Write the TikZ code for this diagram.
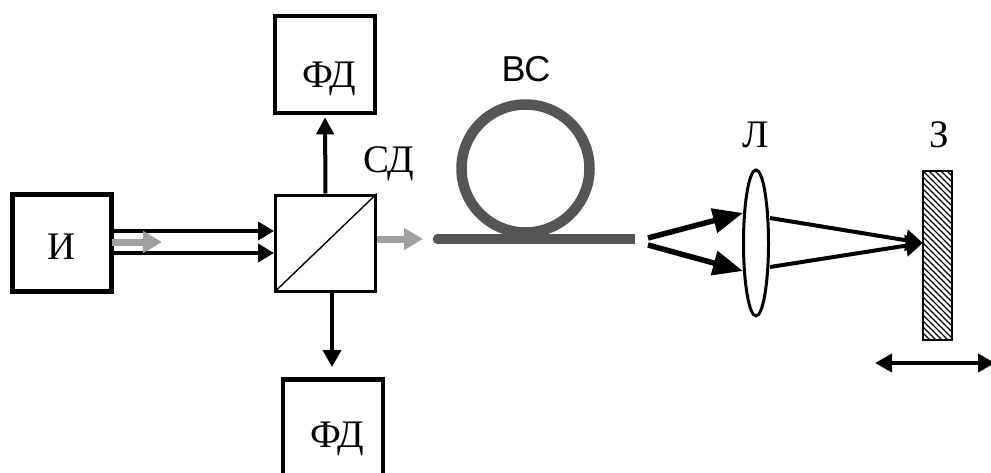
\documentclass[tikz,border=0pt]{standalone}
\usepackage{fontspec}
\setmainfont{Liberation Serif}
\newfontfamily\sansf{Liberation Sans}
\usetikzlibrary{arrows.meta,calc,shapes.geometric}
\definecolor{fibre}{HTML}{555555}
\definecolor{beam}{HTML}{A0A0A0}
\tikzset{
  x=1pt,y=-1pt,
  boxthick/.style={draw,line width=4.6pt,minimum width=99pt,minimum height=97pt,inner sep=0pt,rectangle},
  splitbox/.style={draw,line width=3pt,minimum width=100pt,minimum height=96pt,inner sep=0pt,rectangle},
  lbl/.style={font=\fontsize{39}{39}\selectfont,inner sep=0pt},
  ray/.style={line width=4pt,-{Triangle[length=16pt,width=18pt]}},
  grayray/.style={draw=beam,line width=7pt,-{Triangle[length=19pt,width=21pt]},beam},
  bigray/.style={line width=5.5pt,-{Triangle[length=30pt,width=24pt]}},
}
\begin{document}
\begin{tikzpicture}
\useasboundingbox (0,0) rectangle (991,472);
\begin{scope}
\clip (0,0) rectangle (991,472);
\node[boxthick] (src) at (62,243) {};
\node[splitbox] (split) at (325.5,243) {};
\node[boxthick,minimum width=100pt] (pdtop) at (325,64.5) {};
\node[boxthick,minimum width=100pt,minimum height=110pt,anchor=north] (pdbot) at (333,377) {};
\node[lbl,anchor=base] (tsrc) at (62,259) {И};
\node[lbl,anchor=base] (ttop) at (329,87) {ФД};
\node[lbl,anchor=base] (tbot) at (337,447) {ФД};
\node[lbl,anchor=base] (tsd) at (389,172) {СД};
\node[lbl,anchor=base] (tl) at (756,147) {Л};
\node[lbl,anchor=base] (tz) at (939,147) {З};
\node[font=\sansf\fontsize{36}{36}\selectfont,inner sep=0pt,anchor=base] (tvs) at (526,81) {ВС};
% splitter diagonal
\draw[line width=1.4pt] (split.south west) -- (split.north east);
% source beams
\draw[ray] ([yshift=12pt]src.east) -- ([yshift=12pt]split.west);
\draw[ray] ([yshift=-10pt]src.east) -- ([yshift=-10pt]split.west);
\coordinate (gs) at (162,242);
\draw[grayray] ([xshift=-2pt,yshift=1pt]src.east) -- (gs);
% detector arrows
\draw[ray,-{Triangle[length=17pt,width=17pt]}] (split.north) -- ([yshift=-2pt]pdtop.south);
\draw[ray,-{Triangle[length=17pt,width=18pt]}] ([xshift=6.5pt]split.south) -- ([xshift=-1pt,yshift=10pt]pdbot.north);
% fibre
\coordinate (fa) at (438,239);
\coordinate (fb) at (635,239);
\draw[grayray] ([yshift=4pt]split.east) -- (423,239);
\draw[fibre,line width=10.5pt] (525.5,168.5) circle[radius=64];
\draw[fibre,line width=10.5pt] (fa) -- (fb);
\fill[fibre] (fa) circle[radius=5.25];
% lens
\node[draw,ellipse,line width=3pt,minimum width=25pt,minimum height=146pt,inner sep=0pt] (lens) at (756,243) {};
% rays to the lens
\coordinate (o1) at (648,238);
\coordinate (o2) at (648,245);
\draw[bigray] (o1) -- (743,213);
\draw[bigray] (o2) -- (743,271);
% mirror
\node[draw,line width=1.5pt,minimum width=28pt,minimum height=168pt,inner sep=0pt,rectangle] (mir) at (937.5,255.5) {};
\begin{scope}
\clip (mir.south west) rectangle (mir.north east);
\foreach \k in {-30,-24,...,200} {
  \draw[line width=1.2pt] (923,171+\k*1) -- (953,201+\k*1);
}
\end{scope}
\draw[line width=1.5pt] (mir.south west) rectangle (mir.north east);
% focused rays
\coordinate (foc) at (mir.west |- 0,243);
\coordinate (r1) at (770,218);
\coordinate (r2) at (770,267);
\draw[ray,-{Triangle[length=17pt,width=21pt]}] (r2) -- (foc);
\draw[ray,-{Triangle[length=17pt,width=21pt]}] (r1) -- (foc);
% motion arrow
\coordinate (ml) at (875,363);
\coordinate (mr) at (995,363);
\draw[line width=4pt,{Triangle[length=17pt,width=18pt]}-{Triangle[length=17pt,width=18pt]}] (ml) -- (mr);
\end{scope}
\end{tikzpicture}
\end{document}
